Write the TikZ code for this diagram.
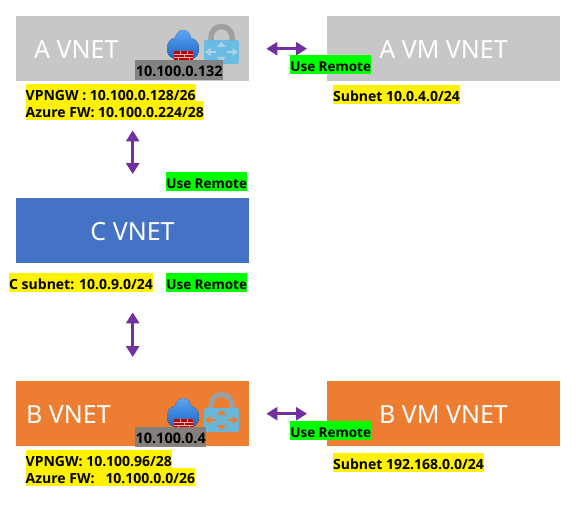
\documentclass[tikz,border=0pt]{standalone}
\usepackage{fontspec}
\setmainfont{Noto Sans}
\newfontfamily\lblfont{Open Sans}
\usetikzlibrary{arrows.meta}
\definecolor{vgray}{HTML}{C7C7C7}
\definecolor{vblue}{HTML}{4472C4}
\definecolor{vorange}{HTML}{ED7D31}
\definecolor{vpurple}{HTML}{7030A0}
\definecolor{cloudtop}{HTML}{5EA5F0}
\definecolor{cloudbot}{HTML}{1A66C8}
\definecolor{lockblue}{HTML}{5FBCE6}
\tikzset{
  x=1pt,y=-1pt,
  vnet/.style={fill=#1,draw=none,minimum width=233pt,minimum height=65pt,inner sep=0pt,anchor=north west},
  title/.style={text=white,inner sep=0pt,font=\fontsize{25}{28}\selectfont},
  lbl/.style={inner sep=0pt,anchor=north west,text=black,text height=16pt,text depth=2.5pt},
  note/.style={lbl,fill=yellow,font=\lblfont\fontsize{14}{16}\selectfont\bfseries},
  remote/.style={lbl,fill=green,minimum width=81pt,font=\lblfont\fontsize{13.5}{15}\selectfont\bfseries},
  addr/.style={lbl,fill=gray,fill opacity=.95,text opacity=1,text depth=3.5pt,font=\lblfont\fontsize{14.5}{16}\selectfont\bfseries},
  link/.style={draw=vpurple,line width=3pt,{Triangle[width=13pt,length=11pt]}-{Triangle[width=13pt,length=11pt]}},
  pics/gateway/.style={code={
    \fill[top color=cloudtop,bottom color=cloudbot] (167,49) .. controls (167,41) and (172,38) .. (175,38)
      .. controls (176,33) and (180,30) .. (183,30) .. controls (187,30) and (190,33) .. (191,38)
      .. controls (195,39) and (199,42) .. (199,49) .. controls (199,54) and (196,58) .. (192,59)
      -- (175,59) .. controls (170,58) and (167,54) .. (167,49) -- cycle;
    \fill[red!75!black] (174,51) rectangle (193,60);
    \draw[white!70!red,line width=.8pt] (174,54) -- (193,54) (174,57) -- (193,57) (180,51) -- (180,54) (187,51) -- (187,54) (184,54) -- (184,57) (178,57) -- (178,60) (189,57) -- (189,60);
    \draw[gray!75,line width=5.5pt] (211,42) -- (211,37) arc[start angle=180,end angle=0,x radius=10.5,y radius=-10.5] -- (232,42);
    \fill[lockblue,rounded corners=2pt,opacity=.9] (204,40) rectangle (239,64);
    \fill[#1] (221.5,42) -- (217,47) -- (226,47) -- cycle;
    \fill[#1] (221.5,62) -- (217,57) -- (226,57) -- cycle;
    \fill[#1] (205,52) -- (210.5,48) -- (210.5,56) -- cycle;
    \fill[#1] (238,52) -- (232.5,48) -- (232.5,56) -- cycle;
    \draw[#1,line width=1.4pt] (210,52) -- (216,52) (227,52) -- (233,52);
  }}
}
\begin{document}
\begin{tikzpicture}
\useasboundingbox (0,0) rectangle (586,516);
\fill[white] (0,0) rectangle (586,516);
% VNET boxes
\node[vnet=vgray] (a) at (16,16) {};
\node[vnet=vgray] (avm) at (327,16) {};
\node[vnet=vblue] (c) at (16,198) {};
\node[vnet=vorange] (b) at (16,381) {};
\node[vnet=vorange] (bvm) at (327,381) {};
% titles
\node[title,anchor=west] (at) at (34,50) {A VNET};
\node[title] (avt) at (443.5,50) {A VM VNET};
\node[title] (ct) at (132.5,232) {C VNET};
\node[title,anchor=west] (bt) at (26,415) {B VNET};
\node[title] (bvt) at (443.5,415) {B VM VNET};
% icons
\pic at (0,0) {gateway={vgray!40!lockblue!70!white}};
\pic at (0,368) {gateway={vorange}};
% addresses
\node[addr,minimum width=88pt] (aip) at (135,60) {10.100.0.132};
\node[addr,minimum width=71pt] (bip) at (135,427) {10.100.0.4};
% connectors
\draw[link,shorten <=17pt,shorten >=20pt] (a) -- (avm);
\draw[link,shorten <=17pt,shorten >=20pt] (b) -- (bvm);
\draw[link,shorten <=49pt,shorten >=24pt] (a) -- (c);
\draw[link,shorten <=49pt,shorten >=24pt] (c) -- (b);
% notes
\node[note] (n1) at (25.5,84) {VPNGW : 10.100.0.128/26};
\node[note] (n2) at (25.5,101) {Azure FW: 10.100.0.224/28};
\node[note] (n3) at (333,85) {Subnet 10.0.4.0/24};
\node[note] (n4) at (9,273) {C subnet: 10.0.9.0/24};
\node[note] (n5) at (25.5,450) {VPNGW: 10.100.96/28};
\node[note] (n6) at (25.5,467.5) {Azure FW:\ \ \ 10.100.0.0/26};
\node[note] (n7) at (333,453) {Subnet 192.168.0.0/24};
% use remote
\node[remote] (r1) at (290,55) {Use Remote};
\node[remote] (r2) at (166,172) {Use Remote};
\node[remote] (r3) at (166,273) {Use Remote};
\node[remote] (r4) at (290,421) {Use Remote};
\end{tikzpicture}
\end{document}
